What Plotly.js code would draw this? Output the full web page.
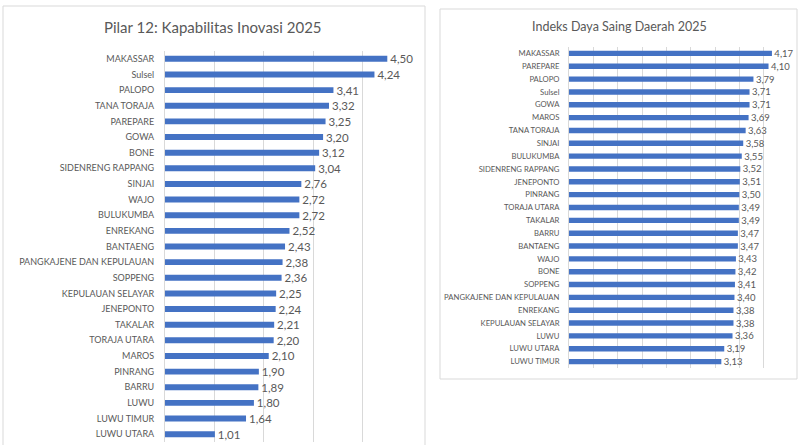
<!DOCTYPE html>
<html><head><meta charset="utf-8">
<script src="https://cdn.plot.ly/plotly-3.0.1.min.js"></script>
<style>html,body{margin:0;padding:0;background:#fff}#c{width:800px;height:445px}</style>
</head><body><div id="c"></div>
<script>
// Left chart: Pilar 12: Kapabilitas Inovasi 2025
const leftTitle = "Pilar 12: Kapabilitas Inovasi 2025";
const leftRegions = ["MAKASSAR","Sulsel","PALOPO","TANA TORAJA","PAREPARE","GOWA","BONE","SIDENRENG RAPPANG","SINJAI","WAJO","BULUKUMBA","ENREKANG","BANTAENG","PANGKAJENE DAN KEPULAUAN","SOPPENG","KEPULAUAN SELAYAR","JENEPONTO","TAKALAR","TORAJA UTARA","MAROS","PINRANG","BARRU","LUWU","LUWU TIMUR","LUWU UTARA"];
const leftValues = [4.50,4.24,3.41,3.32,3.25,3.20,3.12,3.04,2.76,2.72,2.72,2.52,2.43,2.38,2.36,2.25,2.24,2.21,2.20,2.10,1.90,1.89,1.80,1.64,1.01];

// Right chart: Indeks Daya Saing Daerah 2025
const rightTitle = "Indeks Daya Saing Daerah 2025";
const rightRegions = ["MAKASSAR","PAREPARE","PALOPO","Sulsel","GOWA","MAROS","TANA TORAJA","SINJAI","BULUKUMBA","SIDENRENG RAPPANG","JENEPONTO","PINRANG","TORAJA UTARA","TAKALAR","BARRU","BANTAENG","WAJO","BONE","SOPPENG","PANGKAJENE DAN KEPULAUAN","ENREKANG","KEPULAUAN SELAYAR","LUWU","LUWU UTARA","LUWU TIMUR"];
const rightValues = [4.17,4.10,3.79,3.71,3.71,3.69,3.63,3.58,3.55,3.52,3.51,3.50,3.49,3.49,3.47,3.47,3.43,3.42,3.41,3.40,3.38,3.38,3.36,3.19,3.13];

const W = 800, H = 445;
const px = x => x / W;
const py = y => 1 - y / H;
const FONT = "Lato, 'Open Sans', sans-serif";
const GRAY = "#595959";
const BAR = "#4472C4";
const GRID = "#D9D9D9";

const traces = [
  {type:"bar", orientation:"h", x:leftValues, y:leftRegions, xaxis:"x", yaxis:"y",
   marker:{color:BAR}, width:0.38, texttemplate:"\u00a0%{x:.2f}", textposition:"outside",
   constraintext:"none", cliponaxis:false, textfont:{family:FONT, size:11.5, color:GRAY}, hoverinfo:"x+y"},
  {type:"bar", orientation:"h", x:rightValues, y:rightRegions, xaxis:"x2", yaxis:"y2",
   marker:{color:BAR}, width:0.42, texttemplate:"\u00a0%{x:.2f}", textposition:"outside",
   constraintext:"none", cliponaxis:false, textfont:{family:FONT, size:9.5, color:GRAY}, hoverinfo:"x+y"}
];

const layout = {
  width:W, height:H, margin:{l:0,r:0,t:0,b:0},
  paper_bgcolor:"#fff", plot_bgcolor:"#fff", showlegend:false,
  separators:",.", font:{family:FONT, color:GRAY},
  xaxis:{domain:[px(165), px(412)], range:[0,5], dtick:1, showgrid:true, gridcolor:GRID,
         zeroline:false, showticklabels:false, showline:false, fixedrange:true, anchor:"y"},
  yaxis:{domain:[py(442), py(51)], type:"category", autorange:"reversed", showgrid:false,
         showline:true, linecolor:GRID, ticks:"", ticklabelstandoff:8,
         tickfont:{family:FONT, size:9, color:GRAY}, anchor:"x"},
  xaxis2:{domain:[px(569), px(788)], range:[0,4.5], dtick:0.5, showgrid:true, gridcolor:GRID,
         zeroline:false, showticklabels:false, showline:false, fixedrange:true, anchor:"y2"},
  yaxis2:{domain:[py(368), py(47)], type:"category", autorange:"reversed", showgrid:false,
         showline:true, linecolor:GRID, ticks:"", ticklabelstandoff:7,
         tickfont:{family:FONT, size:7.7, color:GRAY}, anchor:"x2"},
  shapes:[
    {type:"rect", xref:"paper", yref:"paper", x0:px(3), x1:px(425), y0:py(460), y1:py(6),
     line:{color:GRID, width:1}, fillcolor:"rgba(0,0,0,0)", layer:"below"},
    {type:"rect", xref:"paper", yref:"paper", x0:px(440), x1:px(797), y0:py(379), y1:py(9),
     line:{color:GRID, width:1}, fillcolor:"rgba(0,0,0,0)", layer:"below"}
  ],
  annotations:[
    {text:leftTitle, xref:"paper", yref:"paper", x:px(213), y:py(27), xanchor:"center", yanchor:"middle",
     showarrow:false, font:{family:FONT, size:15, color:GRAY}},
    {text:rightTitle, xref:"paper", yref:"paper", x:px(619), y:py(26), xanchor:"center", yanchor:"middle",
     showarrow:false, font:{family:FONT, size:12.5, color:GRAY}}
  ]
};

Plotly.newPlot("c", traces, layout, {displayModeBar:false, staticPlot:true});
</script></body></html>
